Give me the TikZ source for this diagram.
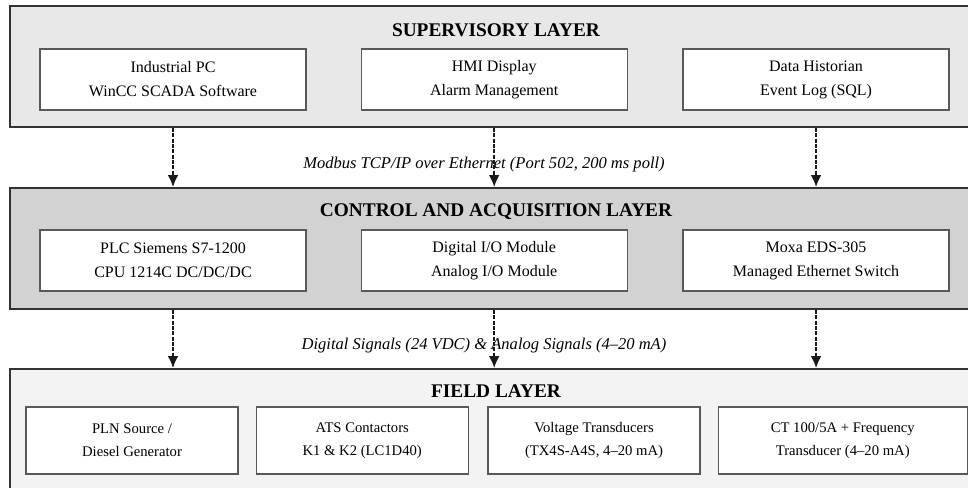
\documentclass[tikz,border=0pt]{standalone}
\usepackage{fontspec}
\setmainfont{Liberation Serif}
\usetikzlibrary{arrows.meta, positioning}

\definecolor{supfill}{HTML}{E8E8E8}
\definecolor{ctlfill}{HTML}{D2D2D2}
\definecolor{fldfill}{HTML}{F3F3F3}

\begin{document}
\begin{tikzpicture}[
  x=0.75pt, y=-0.75pt,
  layer/.style={draw=black!80, line width=1.3pt, minimum width=729pt, inner sep=0pt},
  unit/.style={draw=black!65, line width=0.9pt, fill=white, align=center, inner sep=0pt,
    minimum width=199.5pt, minimum height=45.75pt, font=\fontsize{12}{18}\selectfont},
  fu/.style={unit, minimum width=159pt, minimum height=50.25pt, font=\fontsize{11}{17.25}\selectfont},
  ttl/.style={inner sep=0pt, font=\fontsize{14.5}{17}\selectfont\bfseries},
  ar/.style={-{Latex[length=9pt, width=8pt]}, line width=1.4pt,
    black!90, dash pattern=on 3pt off 1pt},
  el/.style={inner sep=0pt, font=\fontsize{12.4}{15}\selectfont\itshape}
]
\useasboundingbox (0,0) rectangle (968,488);

% layers
\node[layer, fill=supfill, minimum height=90.75pt] (sup) at (496,66.5) {};
\node[layer, fill=ctlfill, minimum height=90.75pt] (ctl) at (496,248.5) {};
\node[layer, fill=fldfill, minimum height=97.5pt] (fld) at (496,434) {};

\node[ttl] (suptitle) at (496,30) {SUPERVISORY LAYER};
\node[ttl] (ctltitle) at (496,212) {CONTROL AND ACQUISITION LAYER};
\node[ttl] (fldtitle) at (496,391) {FIELD LAYER};

% supervisory
\node[unit] (ipc) at (173,79.5) {Industrial PC\\WinCC SCADA Software};
\node[unit, right=40.5pt of ipc] (hmi) {HMI Display\\Alarm Management};
\node[unit, right=41pt of hmi] (hist) {Data Historian\\Event Log (SQL)};

% control
\node[unit] (plc) at (173,260.5) {PLC Siemens S7-1200\\CPU 1214C DC/DC/DC};
\node[unit, right=40.5pt of plc] (io) {Digital I/O Module\\Analog I/O Module};
\node[unit, right=41pt of io] (sw) {Moxa EDS-305\\Managed Ethernet Switch};

% field
\node[fu] (src) at (132,440.5) {PLN Source /\\Diesel Generator};
\node[fu, right=12.75pt of src] (ats) {ATS Contactors\\K1 \& K2 (LC1D40)};
\node[fu, right=14pt of ats] (vt) {Voltage Transducers\\(TX4S-A4S, 4--20 mA)};
\node[fu, right=12.75pt of vt, minimum width=186.75pt] (ct) {CT 100/5A + Frequency\\Transducer (4--20 mA)};

\node[el] (bus) at (484,165) {Modbus TCP/IP over Ethernet (Port 502, 200 ms poll)};
\node[el] (sig) at (484,346) {Digital Signals (24 VDC) \& Analog Signals (4--20 mA)};

\foreach \n in {ipc,hmi,hist}
  \draw[ar] (\n |- sup.south) -- (\n |- ctl.north);
\foreach \n in {plc,io,sw}
  \draw[ar] (\n |- ctl.south) -- (\n |- fld.north);
\end{tikzpicture}
\end{document}
